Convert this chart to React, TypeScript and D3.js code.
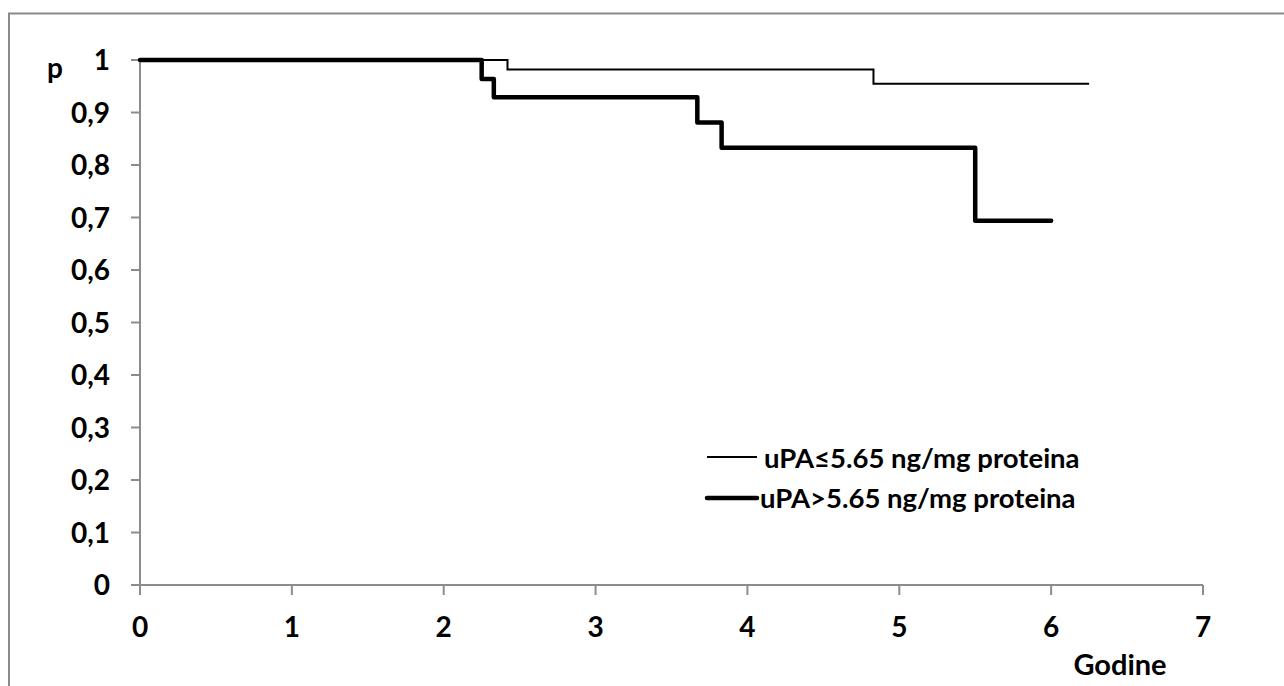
import React from "react";
import * as d3 from "d3";

const lowTimes = [0, 2.42, 4.83, 6.25];
const lowSurv = [1, 0.982, 0.955, 0.955];
const highTimes = [0, 2.25, 2.33, 3.67, 3.83, 5.5, 6.0];
const highSurv = [1, 0.964, 0.929, 0.881, 0.833, 0.694, 0.694];
const xTicks = [0, 1, 2, 3, 4, 5, 6, 7];
const yTicks = [0, 0.1, 0.2, 0.3, 0.4, 0.5, 0.6, 0.7, 0.8, 0.9, 1];
const seriesNames = ["uPA≤5.65 ng/mg proteina", "uPA>5.65 ng/mg proteina"];
const xTitle = "Godine";
const yTitle = "p";

const W = 1284;
const H = 686;
const FONT = "Lato, 'Open Sans', sans-serif";

export default function App() {
  const x = d3.scaleLinear().domain([0, 7]).range([140, 1203]);
  const y = d3.scaleLinear().domain([0, 1]).range([585, 60]);
  const fmt = (v: number) => d3.format("~g")(+v.toFixed(1)).replace(".", ",");
  const line = d3
    .line<[number, number]>()
    .x((d) => x(d[0]))
    .y((d) => y(d[1]))
    .curve(d3.curveStepAfter);
  const low = lowTimes.map((t, i) => [t, lowSurv[i]] as [number, number]);
  const high = highTimes.map((t, i) => [t, highSurv[i]] as [number, number]);
  const axisColor = "#8c8c8c";

  return (
    <svg
      width={W}
      height={H}
      style={{ position: "absolute", left: 0, top: 0, display: "block", background: "#fff" }}
      fontFamily={FONT}
      fontWeight="bold"
    >
      <rect x={9} y={13.5} width={1400} height={800} fill="#fff" stroke="#8a8a8a" strokeWidth={2} />
      {/* y axis */}
      <line x1={x(0)} x2={x(0)} y1={y(0)} y2={y(1)} stroke={axisColor} strokeWidth={2} />
      {yTicks.map((t) => (
        <g key={"y" + t}>
          <line x1={x(0) - 9} x2={x(0)} y1={y(t)} y2={y(t)} stroke={axisColor} strokeWidth={2} />
          <text x={110} y={y(t)} dy="0.36em" textAnchor="end" fontSize={28} fill="#000">
            {fmt(t)}
          </text>
        </g>
      ))}
      {/* x axis */}
      <line x1={x(0) - 9} x2={x(7)} y1={y(0)} y2={y(0)} stroke={axisColor} strokeWidth={2} />
      {xTicks.map((t) => (
        <g key={"x" + t}>
          <line x1={x(t)} x2={x(t)} y1={y(0)} y2={y(0) + 10} stroke={axisColor} strokeWidth={2} />
          <text x={x(t)} y={636.5} textAnchor="middle" fontSize={28} fill="#000">
            {t}
          </text>
        </g>
      ))}
      <text x={1120} y={675} textAnchor="middle" fontSize={29} fill="#000">
        {xTitle}
      </text>
      <text x={55} y={77.5} textAnchor="middle" fontSize={28} fill="#000">
        {yTitle}
      </text>
      {/* curves */}
      <path d={line(low) || ""} fill="none" stroke="#000" strokeWidth={2} />
      <path d={line(high) || ""} fill="none" stroke="#000" strokeWidth={4.5} strokeLinejoin="round" strokeLinecap="round" />
      {/* legend */}
      <line x1={707} x2={757} y1={457} y2={457} stroke="#000" strokeWidth={2} />
      <text x={764} y={468} fontSize={27.5} fill="#000">
        {seriesNames[0]}
      </text>
      <line x1={707} x2={757} y1={498} y2={498} stroke="#000" strokeWidth={4.5} strokeLinecap="round" />
      <text x={760} y={508} fontSize={27.5} fill="#000">
        {seriesNames[1]}
      </text>
    </svg>
  );
}
